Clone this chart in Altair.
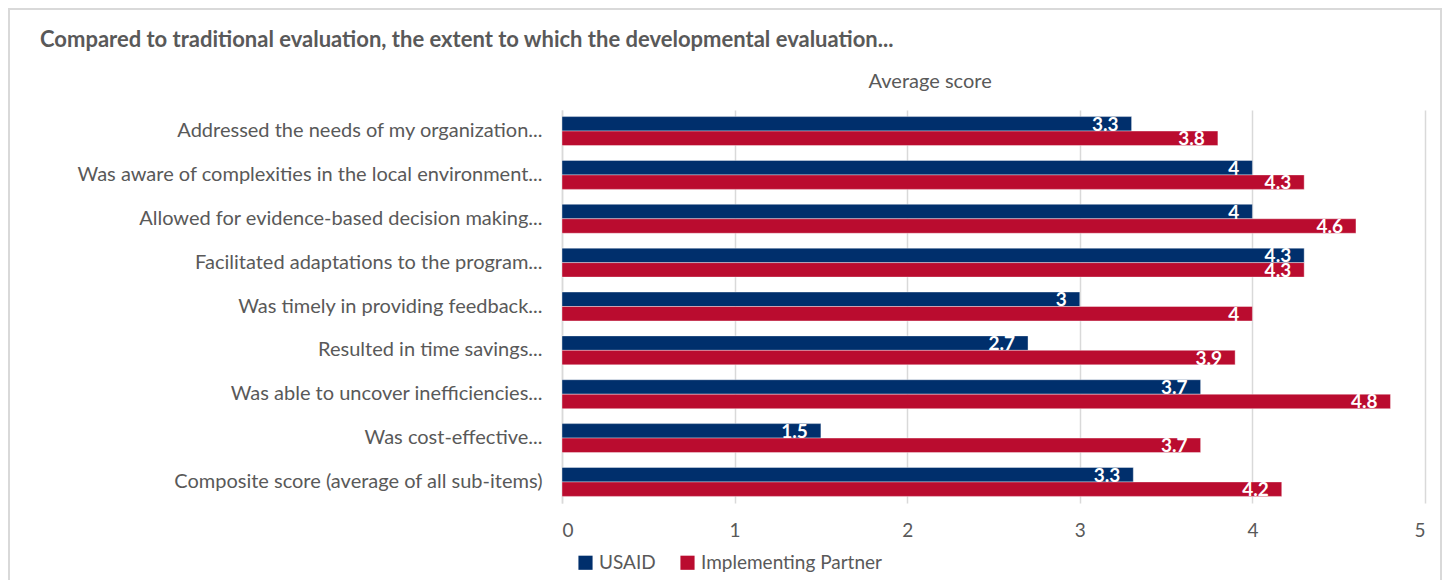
import altair as alt
import pandas as pd

categories = [
    "Addressed the needs of my organization...",
    "Was aware of complexities in the local environment...",
    "Allowed for evidence-based decision making...",
    "Facilitated adaptations to the program...",
    "Was timely in providing feedback...",
    "Resulted in time savings...",
    "Was able to uncover inefficiencies...",
    "Was cost-effective...",
    "Composite score (average of all sub-items)",
]
series = ["USAID", "Implementing Partner"]
usaid = [3.3, 4.0, 4.0, 4.3, 3.0, 2.7, 3.7, 1.5, 3.31]
partner = [3.8, 4.3, 4.6, 4.3, 4.0, 3.9, 4.8, 3.7, 4.17]
colors = ["#002F6C", "#BA0C2F"]
x_ticks = [0, 1, 2, 3, 4, 5]

rows = []
for c, u, p in zip(categories, usaid, partner):
    rows.append({"category": c, "series": series[0], "score": u})
    rows.append({"category": c, "series": series[1], "score": p})
df = pd.DataFrame(rows)

FONT = "Lato"
GREY = "#595959"
W, H = 863, 393

x_enc = alt.X(
    "score:Q",
    scale=alt.Scale(domain=[0, 5], nice=False),
    axis=alt.Axis(
        values=x_ticks, format="d", title="Average score", titleX=W * 0.426, titleY=-(H + 29),
        titleBaseline="middle", titleFontSize=20, titleFontWeight="normal",
        titleColor=GREY, titleFont=FONT, labelFont=FONT, labelFontSize=19,
        labelColor=GREY, labelPadding=18, ticks=False, domain=False,
        grid=True, gridColor="#d9d9d9", gridWidth=1.5,
    ),
)
y_enc = alt.Y(
    "category:N", sort=categories,
    scale=alt.Scale(paddingInner=0.34, paddingOuter=0.15),
    axis=alt.Axis(
        title=None, labelFont=FONT, labelFontSize=20, labelColor=GREY,
        labelPadding=20, ticks=False, domainColor="#d9d9d9", domainWidth=1.5,
        labelLimit=700,
    ),
)
yoff = alt.YOffset("series:N", sort=series)

bars = alt.Chart(df).mark_bar(stroke="#ffffff", strokeWidth=0.75, strokeOpacity=0.5).encode(
    x=x_enc,
    y=y_enc,
    yOffset=yoff,
    color=alt.Color(
        "series:N", sort=series,
        scale=alt.Scale(domain=series, range=colors),
        legend=alt.Legend(
            title=None, orient="none", legendX=14, legendY=443, direction="horizontal",
            symbolType="square", symbolSize=200, symbolStrokeWidth=0,
            labelFont=FONT, labelFontSize=19, labelColor=GREY, columnPadding=22,
            labelOffset=4, labelLimit=400,
        ),
    ),
)

labels = alt.Chart(df).mark_text(
    align="right", baseline="middle", dx=-13, dy=1, color="white",
    font=FONT, fontSize=19, fontWeight="bold",
).encode(
    x="score:Q",
    y=alt.Y("category:N", sort=categories),
    yOffset=yoff,
    text=alt.Text("score:Q", format=".1~f"),
)

frame = alt.Chart(pd.DataFrame({"f": [0]})).mark_rect(
    filled=False, stroke="#d9d9d9", strokeWidth=2
).encode(
    x=alt.value(-553), x2=alt.value(W + 16), y=alt.value(-101), y2=alt.value(H + 200)
)

chart = alt.layer(bars, labels, frame).properties(
    width=W, height=H,
    autosize=alt.AutoSizeParams(type="none"),
    padding={"left": 554, "top": 102, "right": 17, "bottom": 105},
    title=alt.TitleParams(
        "Compared to traditional evaluation, the extent to which the developmental evaluation...",
        anchor="start", frame="group", dx=-522, offset=-44, fontSize=22,
        fontWeight="bold", color=GREY, font=FONT,
    ),
).configure_view(stroke=None).configure_axis(labelFont=FONT)

chart.save("out.html", embed_options={"renderer": "svg", "actions": False})
